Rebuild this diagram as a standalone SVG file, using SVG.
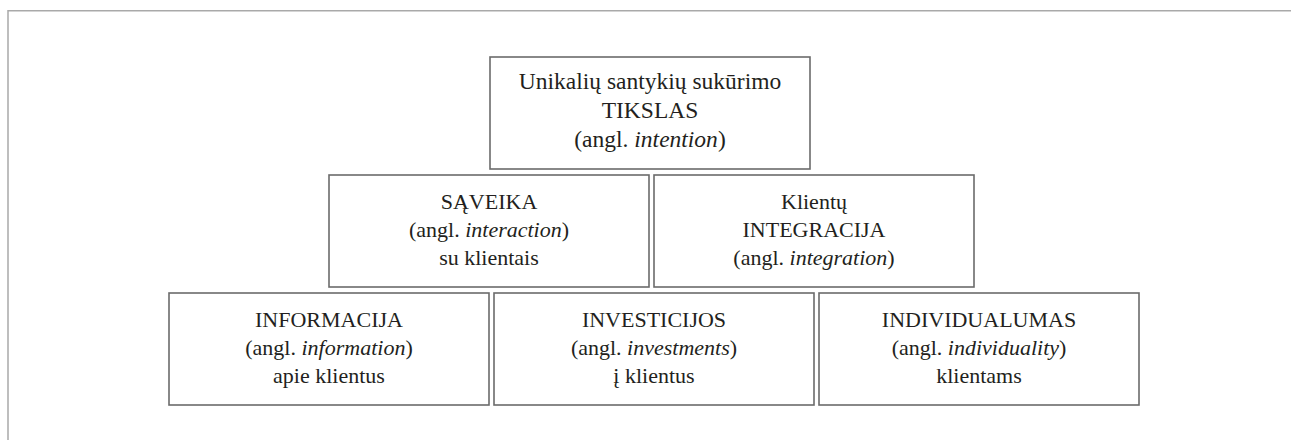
<svg xmlns="http://www.w3.org/2000/svg" width="1291" height="440" viewBox="0 0 1291 440">
<style>
.frame{fill:none;stroke:#a9a9a9;stroke-width:1.5}
.box{fill:#fff;stroke:#6b6b6b;stroke-width:1.6}
.lbl{fill:#231f20;text-anchor:middle}
.big{font-size:23.5px}
.t{font-size:22px}
.i{font-style:italic}
</style>
<rect width="1291" height="440" fill="#fff"/>
<path class="frame" d="M8 440 V10.75 H1291"/>
<g id="connectors"/>
<g font-family="'Liberation Serif', 'DejaVu Serif', serif">
<g id="n-tikslas">
<rect class="box" x="490" y="57" width="320" height="112"/>
<text class="lbl big" x="650" y="89">Unikalių santykių sukūrimo</text>
<text class="lbl big" x="650" y="118">TIKSLAS</text>
<text class="lbl big" x="650" y="147">(angl. <tspan class="i">intention</tspan>)</text>
</g>
<g id="n-saveika">
<rect class="box" x="329" y="175" width="320" height="112"/>
<text class="lbl t" x="489" y="209">SĄVEIKA</text>
<text class="lbl t" x="489" y="237">(angl. <tspan class="i">interaction</tspan>)</text>
<text class="lbl t" x="489" y="265">su klientais</text>
</g>
<g id="n-integracija">
<rect class="box" x="654" y="175" width="320" height="112"/>
<text class="lbl t" x="814" y="209">Klientų</text>
<text class="lbl t" x="814" y="237">INTEGRACIJA</text>
<text class="lbl t" x="814" y="265">(angl. <tspan class="i">integration</tspan>)</text>
</g>
<g id="n-informacija">
<rect class="box" x="169" y="293" width="320" height="112"/>
<text class="lbl t" x="329" y="327">INFORMACIJA</text>
<text class="lbl t" x="329" y="355">(angl. <tspan class="i">information</tspan>)</text>
<text class="lbl t" x="329" y="383">apie klientus</text>
</g>
<g id="n-investicijos">
<rect class="box" x="494" y="293" width="320" height="112"/>
<text class="lbl t" x="654" y="327">INVESTICIJOS</text>
<text class="lbl t" x="654" y="355">(angl. <tspan class="i">investments</tspan>)</text>
<text class="lbl t" x="654" y="383">į klientus</text>
</g>
<g id="n-individualumas">
<rect class="box" x="819" y="293" width="320" height="112"/>
<text class="lbl t" x="979" y="327">INDIVIDUALUMAS</text>
<text class="lbl t" x="979" y="355">(angl. <tspan class="i">individuality</tspan>)</text>
<text class="lbl t" x="979" y="383">klientams</text>
</g>
</g>
</svg>
